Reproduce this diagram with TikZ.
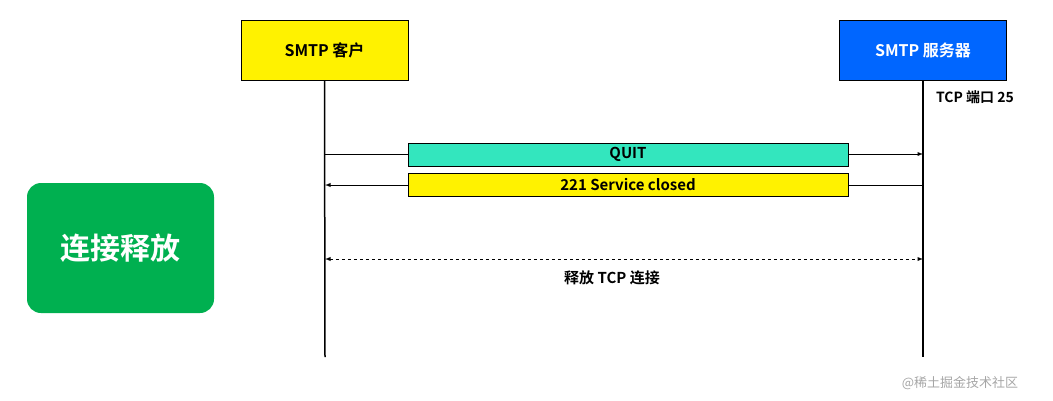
\documentclass[tikz,border=0pt]{standalone}
\usepackage{fontspec}
\setmainfont{Noto Sans CJK SC}[BoldFont={* Bold}]
\begin{document}
\begin{tikzpicture}[x=1pt,y=-1pt,
  actor/.style={draw=black,line width=0.8pt,minimum width=167pt,minimum height=60pt,font=\bfseries\fontsize{16}{18}\selectfont},
  msg/.style={draw=black,line width=0.6pt,minimum width=440pt,minimum height=23pt,inner sep=0pt,font=\bfseries\fontsize{15}{17}\selectfont},
  life/.style={line width=1.5pt},
  arr/.style={-latex,line width=0.9pt}]
\useasboundingbox (0,0) rectangle (1053,400);
\node[actor,fill=yellow] (c) at (324.5,50) {SMTP 客户};
\node[actor,fill={rgb,255:red,0;green,102;blue,255},text=white] (s) at (923,50) {SMTP 服务器};
\coordinate (cb) at (325,357); \coordinate (sb) at (923,357);
\draw[life] (c.south) -- (cb);
\draw[life] (s.south) -- (sb);
\node[font=\bfseries\fontsize{14}{16}\selectfont] (port) at (975,97) {TCP 端口 25};
\coordinate (q1) at (325,154); \coordinate (q2) at (923,154);
\draw[arr] (q1) -- (q2);
\node[msg,fill={rgb,255:red,51;green,230;blue,190}] (quit) at (628,154.5) {QUIT};
\coordinate (r1) at (923,185); \coordinate (r2) at (325,185);
\draw[arr] (r1) -- (r2);
\node[msg,fill=yellow] (ok) at (628,185) {221 Service closed};
\coordinate (d1) at (325,259); \coordinate (d2) at (923,259);
\draw[latex-latex,dashed,line width=0.9pt] (d1) -- (d2);
\node[font=\bfseries\fontsize{15}{17}\selectfont] (rel) at (612,278) {释放 TCP 连接};
\node[fill={rgb,255:red,0;green,176;blue,80},rounded corners=14pt,minimum width=187pt,minimum height=130pt,text=white,font=\bfseries\fontsize{30}{34}\selectfont] (g) at (120.5,248) {连接释放};
\node[text=gray!70,font=\fontsize{13}{15}\selectfont] (wm) at (960,383) {@稀土掘金技术社区};
\end{tikzpicture}
\end{document}
